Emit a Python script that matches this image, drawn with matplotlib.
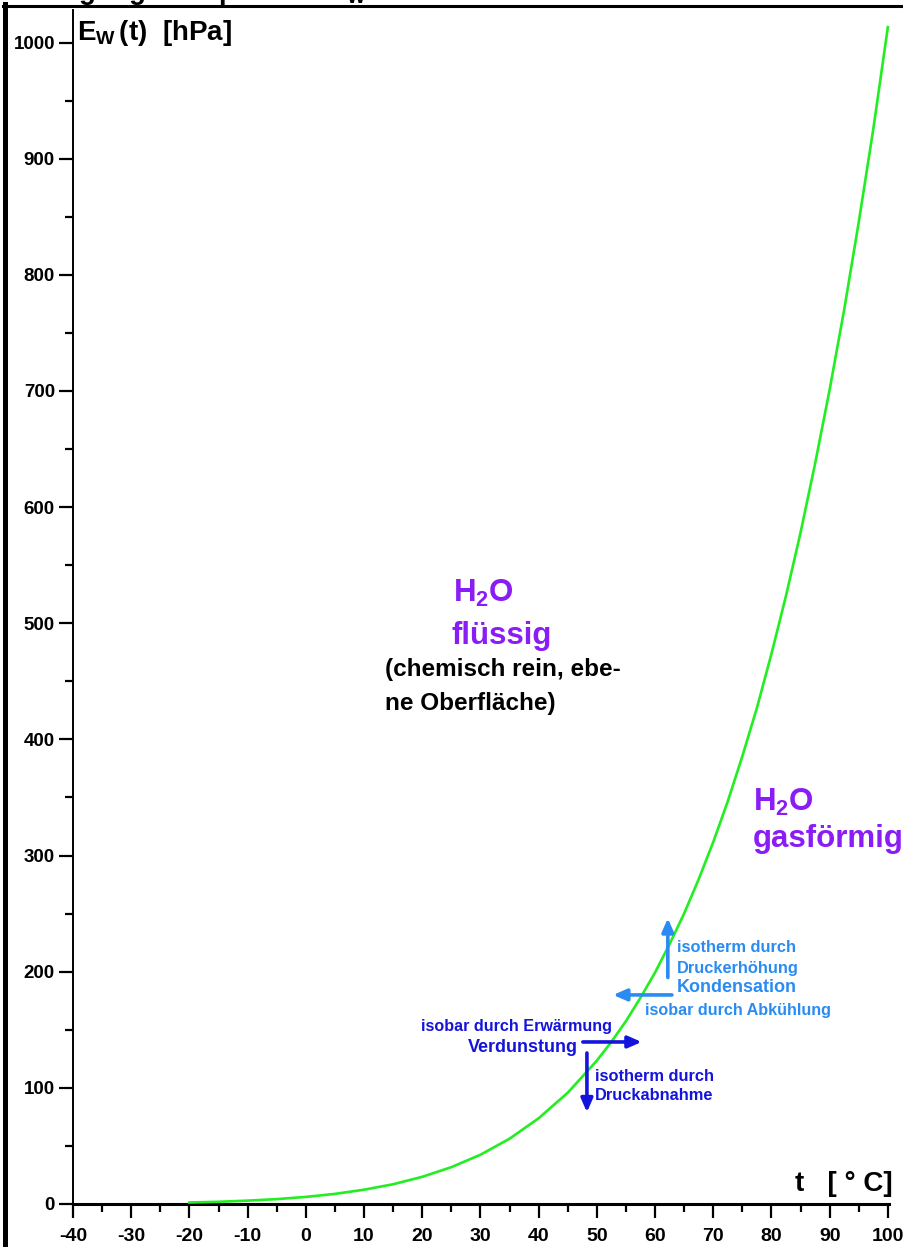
import matplotlib
matplotlib.use('Agg')
import matplotlib.pyplot as plt
from matplotlib.lines import Line2D
from matplotlib.ticker import MultipleLocator

plt.rcParams['font.family'] = ['Liberation Sans', 'DejaVu Sans']
plt.rcParams['mathtext.fontset'] = 'custom'
plt.rcParams['mathtext.rm'] = 'Liberation Sans:bold'
plt.rcParams['mathtext.it'] = 'Liberation Sans:bold'
plt.rcParams['mathtext.bf'] = 'Liberation Sans:bold'

# saturation vapour pressure over water (hPa)
temps = [-20, -15, -10, -5, 0, 5, 10, 15, 20, 25, 30, 35, 40, 45,
         50, 52.5, 55, 57.5, 60, 62.5, 65, 67.5, 70, 72.5, 75, 77.5,
         80, 82.5, 85, 87.5, 90, 92.5, 95, 97.5, 100]
e_w = [1.3, 1.9, 2.9, 4.2, 6.1, 8.7, 12.3, 17.0, 23.4, 31.7, 42.4, 56.2,
       73.8, 95.8, 123.4, 139.6, 157.4, 177.6, 199.2, 223.8, 250.1, 279.6,
       311.6, 346.7, 385.5, 427.0, 473.6, 523.6, 578.0, 637.4, 701.1,
       770.0, 845.3, 925.4, 1013.2]

x_ticks = list(range(-40, 101, 10))
y_ticks = list(range(0, 1001, 100))

GREEN = '#22ee22'
PURPLE = '#8a1cf5'
LIGHT_BLUE = '#2a8cf2'
DARK_BLUE = '#1414dc'

fig = plt.figure(figsize=(9.04, 12.47), dpi=100)
fig.patch.set_facecolor('white')

# axes placed so -40..100 degC and 0..1000 hPa land on the drawn axis lines
ax = fig.add_axes([73 / 904, 43 / 1247, 816 / 904, 1194 / 1247])
ax.set_xlim(-40, 100.2)
ax.set_ylim(0, 1028)
ax.set_facecolor('white')

for side in ('top', 'right'):
    ax.spines[side].set_visible(False)
ax.spines['left'].set_linewidth(1.4)
ax.spines['bottom'].set_linewidth(2.2)

ax.set_xticks(x_ticks)
ax.set_xticklabels([str(v) for v in x_ticks])
ax.set_yticks(y_ticks)
ax.set_yticklabels([str(v) for v in y_ticks])
ax.xaxis.set_minor_locator(MultipleLocator(5))
ax.yaxis.set_minor_locator(MultipleLocator(50))

ax.tick_params(axis='x', which='major', direction='out', length=10, width=1.6, pad=7)
ax.tick_params(axis='x', which='minor', direction='out', length=5.5, width=1.6)
ax.tick_params(axis='y', which='major', direction='out', length=10, width=1.6, pad=3)
ax.tick_params(axis='y', which='minor', direction='out', length=6, width=1.6)
for lab in ax.get_xticklabels():
    lab.set_fontfamily(['Liberation Sans Narrow', 'Liberation Sans'])
    lab.set_fontweight('bold')
    lab.set_fontsize(14)
for lab in ax.get_yticklabels():
    lab.set_fontfamily(['Liberation Sans Narrow', 'Liberation Sans'])
    lab.set_fontweight('bold')
    lab.set_fontsize(13.5)

# saturation curve
ax.plot(temps, e_w, color=GREEN, linewidth=1.9, clip_on=False, zorder=3)

# axis titles
ax.text(-39.3, 1008, r'E$_{\mathrm{W}}\,$(t)  [hPa]', fontsize=20, fontweight='bold',
        ha='left', va='center')
ax.text(100.9, 17, 't   [ ° C]', fontsize=20, fontweight='bold',
        ha='right', va='center')

# phase labels
ax.text(25.3, 526, r'H$_{\mathrm{2}}$O', fontsize=22.5, fontweight='bold',
        color=PURPLE, ha='left', va='center')
ax.text(25.1, 489, 'flüssig', fontsize=22.5, fontweight='bold',
        color=PURPLE, ha='left', va='center')
ax.text(13.6, 460, '(chemisch rein, ebe-', fontsize=17.5, fontweight='bold',
        ha='left', va='center')
ax.text(13.6, 431, 'ne Oberfläche)', fontsize=17.5, fontweight='bold',
        ha='left', va='center')
ax.text(76.8, 346, r'H$_{\mathrm{2}}$O', fontsize=22.5, fontweight='bold',
        color=PURPLE, ha='left', va='center')
ax.text(76.8, 314, 'gasförmig', fontsize=22.5, fontweight='bold',
        color=PURPLE, ha='left', va='center')

# condensation arrows
arrow_light = dict(arrowstyle='-|>,head_length=0.8,head_width=0.35',
                   color=LIGHT_BLUE, lw=2.6, shrinkA=0, shrinkB=0)
ax.annotate('', xy=(62.2, 246), xytext=(62.2, 195), arrowprops=arrow_light)
ax.annotate('', xy=(52.8, 180), xytext=(62.9, 180), arrowprops=arrow_light)
ax.text(63.8, 221, 'isotherm durch', fontsize=11.8, fontweight='bold',
        color=LIGHT_BLUE, ha='left', va='center')
ax.text(63.8, 203, 'Druckerhöhung', fontsize=11.8, fontweight='bold',
        color=LIGHT_BLUE, ha='left', va='center')
ax.text(63.8, 186, 'Kondensation', fontsize=13, fontweight='bold',
        color=LIGHT_BLUE, ha='left', va='center')
ax.text(58.3, 167, 'isobar durch Abkühlung', fontsize=11.6, fontweight='bold',
        color=LIGHT_BLUE, ha='left', va='center')

# evaporation arrows
arrow_dark = dict(arrowstyle='-|>,head_length=0.8,head_width=0.35',
                  color=DARK_BLUE, lw=2.6, shrinkA=0, shrinkB=0)
ax.annotate('', xy=(57.7, 139.5), xytext=(47.6, 139.5), arrowprops=arrow_dark)
ax.annotate('', xy=(48.3, 79), xytext=(48.3, 130), arrowprops=arrow_dark)
ax.text(52.6, 152.5, 'isobar durch Erwärmung', fontsize=11.6, fontweight='bold',
        color=DARK_BLUE, ha='right', va='center')
ax.text(46.7, 135, 'Verdunstung', fontsize=13, fontweight='bold',
        color=DARK_BLUE, ha='right', va='center')
ax.text(49.7, 110, 'isotherm durch', fontsize=11.8, fontweight='bold',
        color=DARK_BLUE, ha='left', va='center')
ax.text(49.7, 93, 'Druckabnahme', fontsize=11.8, fontweight='bold',
        color=DARK_BLUE, ha='left', va='center')

# frame lines and the heading running off the top edge
fig.add_artist(Line2D([5.5 / 904, 5.5 / 904], [0, 1 - 4 / 1247],
                      transform=fig.transFigure, color='black', lw=3.6))
fig.add_artist(Line2D([3 / 904, 1], [1 - 6 / 1247, 1 - 6 / 1247],
                      transform=fig.transFigure, color='black', lw=2.2))
fig.text(0.02, 1 + 1 / 1247, r'Sättigungsdampfdruck E$_{\mathrm{W}}$ über Wasser',
         fontsize=20, fontweight='bold', ha='left', va='baseline')

fig.savefig('out.png', dpi=100, facecolor='white')
